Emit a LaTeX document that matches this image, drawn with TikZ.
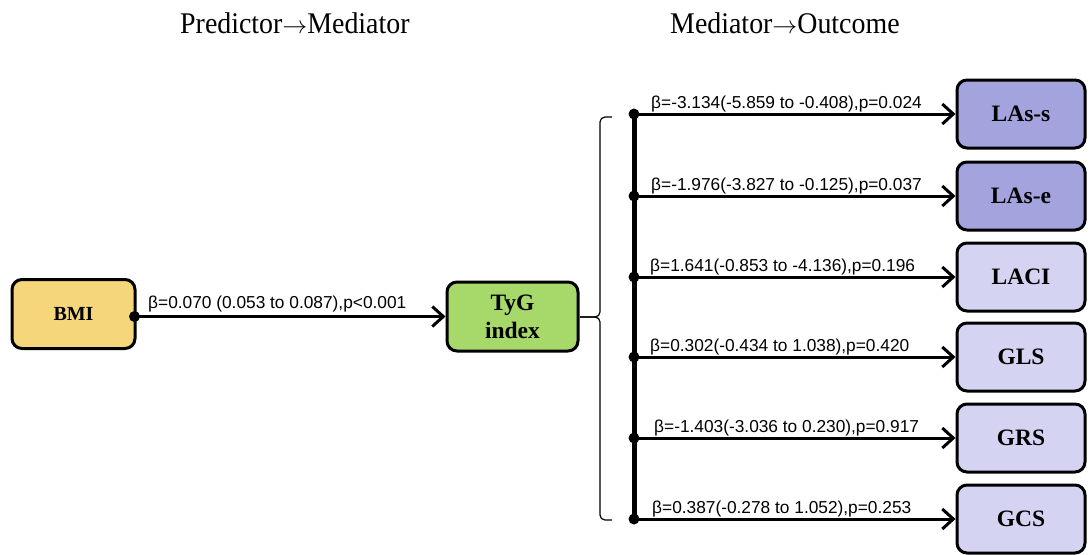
\documentclass[tikz,border=0pt]{standalone}
\usepackage{fontspec}
\setmainfont{Liberation Serif}
\newfontfamily\labelfont{Liberation Sans}
\newfontfamily\headfont[FakeStretch=0.93]{Liberation Serif}
\usetikzlibrary{arrows.meta}

\definecolor{bmiyellow}{HTML}{F5D67A}
\definecolor{tyggreen}{HTML}{A6D86A}
\definecolor{sigpurple}{HTML}{A3A3DE}
\definecolor{nspurple}{HTML}{D4D4F2}

\newcommand{\headarrow}{$\rightarrow$}

\tikzset{
  varbox/.style={draw=black, line width=3pt, rounded corners=10pt,
    align=center, inner sep=0pt, font=\bfseries\fontsize{23.5}{25}\selectfont},
  outbox/.style={varbox, minimum width=128pt, minimum height=68pt},
  path/.style={line width=3pt, -{Straight Barb[length=11pt,width=20pt,line width=3pt]}},
  dot/.style={circle, fill=black, inner sep=0pt, minimum size=11pt},
  coef/.style={font=\labelfont\fontsize{17.3}{19}\selectfont, inner sep=0pt, anchor=base west},
  heading/.style={font=\headfont\fontsize{30}{32}\selectfont, inner sep=0pt, anchor=base west}
}

\begin{document}
\begin{tikzpicture}[x=1pt, y=-1pt]
  \useasboundingbox (0,0) rectangle (1091,554);

  % column headings
  \node[heading] (h1) at (180,33) {Predictor\headarrow Mediator};
  \node[heading] (h2) at (670,33) {Mediator\headarrow Outcome};

  % predictor and mediator
  \node[varbox, fill=bmiyellow, minimum width=123pt, minimum height=69pt,
        font=\bfseries\fontsize{20}{22}\selectfont] (bmi) at (73.5,314) {BMI};
  \node[varbox, fill=tyggreen, minimum width=131pt, minimum height=69pt] (tyg) at (512.5,316.5)
        {TyG\\[3pt]index};

  % outcomes
  \node[outbox, fill=sigpurple] (o1) at (1021,114) {LAs-s};
  \node[outbox, fill=sigpurple] (o2) at (1021,196) {LAs-e};
  \node[outbox, fill=nspurple]  (o3) at (1021,277) {LACI};
  \node[outbox, fill=nspurple]  (o4) at (1021,357) {GLS};
  \node[outbox, fill=nspurple]  (o5) at (1021,438) {GRS};
  \node[outbox, fill=nspurple]  (o6) at (1021,519) {GCS};

  % predictor -> mediator path
  \node[dot] (d0) at ([xshift=-2pt] bmi.east |- tyg.west) {};
  \draw[path] (d0.center) -- (tyg.west);
  \node[coef] (c0) at (148,308) {β=0.070 (0.053 to 0.087),p<0.001};

  % bracket grouping the outcome paths
  \coordinate (bt) at (612,117);
  \coordinate (bm) at (580,317);
  \coordinate (bb) at (612,520);
  \draw[line width=1.2pt, rounded corners=5pt] (bt) -- (600,117) -- (600,317) -- (bm);
  \draw[line width=1.2pt, rounded corners=5pt] (bm) -- (600,317) -- (600,520) -- (bb);

  % spine and mediator -> outcome paths
  \coordinate (spine) at (634,0);
  \foreach \i in {1,...,6} {
    \node[dot] (s\i) at (spine |- o\i.west) {};
  }
  \draw[line width=5pt] (s1.center) -- (s6.center);
  \foreach \i in {1,...,6} {
    \draw[path] (s\i.center) -- (o\i.west);
  }

  \node[coef] (c1) at ([yshift=6pt] s1.center -| 651,0) {β=-3.134(-5.859 to -0.408),p=0.024};
  \node[coef] (c2) at ([yshift=6pt] s2.center -| 651,0) {β=-1.976(-3.827 to -0.125),p=0.037};
  \node[coef] (c3) at ([yshift=6pt] s3.center -| 650,0) {β=1.641(-0.853 to -4.136),p=0.196};
  \node[coef] (c4) at ([yshift=6pt] s4.center -| 650,0) {β=0.302(-0.434 to 1.038),p=0.420};
  \node[coef] (c5) at ([yshift=6pt] s5.center -| 654,0) {β=-1.403(-3.036 to 0.230),p=0.917};
  \node[coef] (c6) at ([yshift=6pt] s6.center -| 652,0) {β=0.387(-0.278 to 1.052),p=0.253};
\end{tikzpicture}
\end{document}
